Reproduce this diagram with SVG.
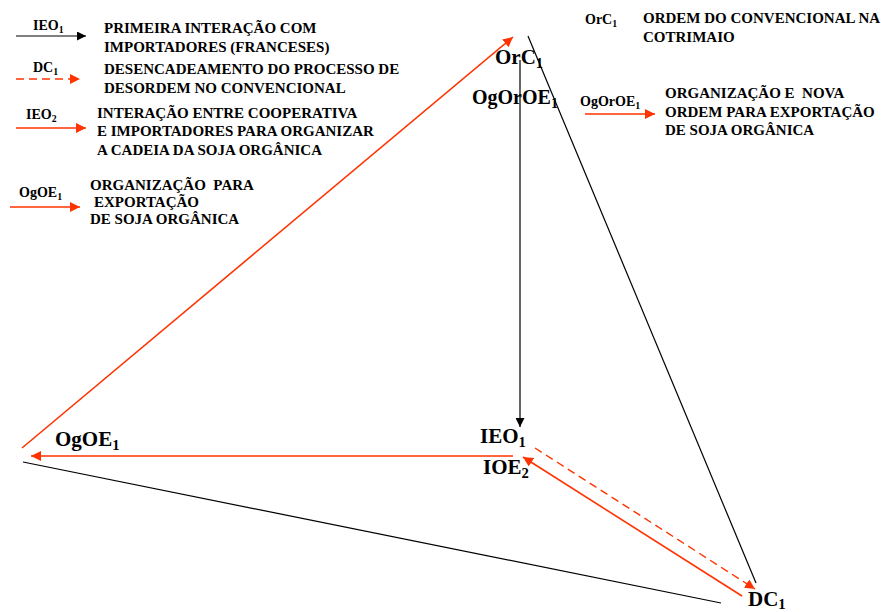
<svg xmlns="http://www.w3.org/2000/svg" width="881" height="612" viewBox="0 0 881 612">
<style>
text{font-family:"Liberation Serif","Times New Roman",serif;font-weight:bold;fill:#000}
.lg{font-size:15px}
.lgs{font-size:14px}
.big{font-size:21px}
.big2{font-size:20px}
.sub{font-size:0.7em}
.k{stroke:#000;stroke-width:1.2;fill:none}
.r{stroke:#ff3300;stroke-width:1.6;fill:none}
.rd{stroke:#ff3300;stroke-width:1.4;fill:none;stroke-dasharray:8 5}
</style>
<defs>
<marker id="ak" viewBox="0 0 10 10" refX="10" refY="5" markerWidth="9" markerHeight="9" markerUnits="userSpaceOnUse" orient="auto"><path d="M0,0 L10,5 L0,10 z" fill="#000"/></marker>
<marker id="ar" viewBox="0 0 10 10" refX="10" refY="5" markerWidth="10" markerHeight="10" markerUnits="userSpaceOnUse" orient="auto"><path d="M0,0 L10,5 L0,10 z" fill="#ff3300"/></marker>
</defs>
<g id="connectors">
<line class="r" x1="22" y1="448" x2="513" y2="37" marker-end="url(#ar)"/>
<line class="k" x1="528" y1="36" x2="756" y2="583"/>
<line class="k" x1="520" y1="60" x2="520" y2="427" marker-end="url(#ak)"/>
<line class="r" x1="513" y1="456" x2="31" y2="456" marker-end="url(#ar)"/>
<line class="k" x1="23" y1="462" x2="721" y2="603"/>
<line class="r" x1="742" y1="596" x2="523" y2="457" marker-end="url(#ar)"/>
<line class="rd" x1="535" y1="448" x2="755" y2="589" marker-end="url(#ar)"/>
</g>
<g id="node-OrC1"><text class="big" x="495" y="64">OrC<tspan class="sub" dy="4">1</tspan></text></g>
<g id="node-OgOrOE1"><text class="big2" x="472" y="104">OgOrOE<tspan class="sub" dy="4">1</tspan></text></g>
<g id="node-IEO1"><text class="big" x="480" y="443">IEO<tspan class="sub" dy="4">1</tspan></text></g>
<g id="node-IOE2"><text class="big" x="483" y="474">IOE<tspan class="sub" dy="4">2</tspan></text></g>
<g id="node-OgOE1"><text class="big" x="55" y="446">OgOE<tspan class="sub" dy="4">1</tspan></text></g>
<g id="node-DC1"><text class="big" x="748" y="606">DC<tspan class="sub" dy="3">1</tspan></text></g>
<g id="legend">
<text class="lgs" x="33" y="30">IEO<tspan class="sub" dy="3">1</tspan></text>
<line class="k" x1="16" y1="36" x2="86" y2="36" marker-end="url(#ak)"/>
<text class="lg" x="104" y="33">PRIMEIRA INTERAÇÃO COM</text>
<text class="lg" x="104" y="52">IMPORTADORES (FRANCESES)</text>
<text class="lgs" x="33" y="72">DC<tspan class="sub" dy="3">1</tspan></text>
<line class="rd" x1="16" y1="79" x2="80" y2="79" marker-end="url(#ar)"/>
<text class="lg" x="104" y="74">DESENCADEAMENTO DO PROCESSO DE</text>
<text class="lg" x="104" y="93">DESORDEM NO CONVENCIONAL</text>
<text class="lgs" x="26" y="119">IEO<tspan class="sub" dy="3">2</tspan></text>
<line class="r" x1="16" y1="128" x2="86" y2="128" marker-end="url(#ar)"/>
<text class="lg" x="97" y="118">INTERAÇÃO ENTRE COOPERATIVA</text>
<text class="lg" x="97" y="136">E IMPORTADORES PARA ORGANIZAR</text>
<text class="lg" x="97" y="155">A CADEIA DA SOJA ORGÂNICA</text>
<text class="lgs" x="19" y="197">OgOE<tspan class="sub" dy="3">1</tspan></text>
<line class="r" x1="10" y1="207" x2="80" y2="207" marker-end="url(#ar)"/>
<text class="lg" x="90" y="190" xml:space="preserve">ORGANIZAÇÃO  PARA</text>
<text class="lg" x="94" y="207">EXPORTAÇÃO</text>
<text class="lg" x="90" y="224">DE SOJA ORGÂNICA</text>
<text class="lgs" x="585" y="24">OrC<tspan class="sub" dy="3">1</tspan></text>
<text class="lg" x="643" y="23">ORDEM DO CONVENCIONAL NA</text>
<text class="lg" x="643" y="42">COTRIMAIO</text>
<text class="lgs" x="580" y="106">OgOrOE<tspan class="sub" dy="3">1</tspan></text>
<line class="r" x1="585" y1="114" x2="655" y2="114" marker-end="url(#ar)"/>
<text class="lg" x="665" y="98" xml:space="preserve">ORGANIZAÇÃO E  NOVA</text>
<text class="lg" x="665" y="117">ORDEM PARA EXPORTAÇÃO</text>
<text class="lg" x="665" y="135">DE SOJA ORGÂNICA</text>
</g>
</svg>
